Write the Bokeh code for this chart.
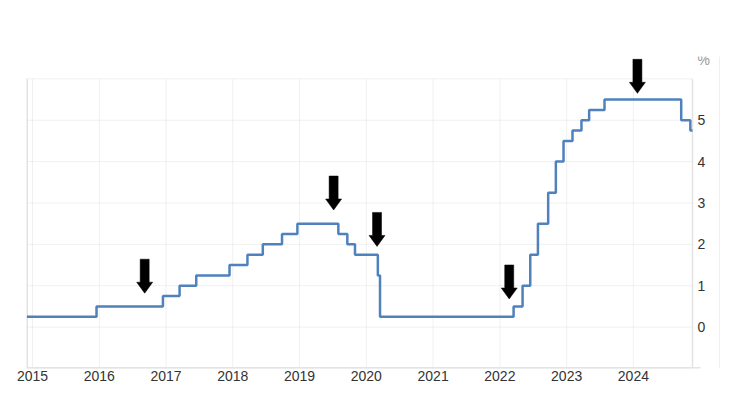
import pandas as pd
from bokeh.plotting import figure
from bokeh.models import FixedTicker, Range1d
from bokeh.core.properties import value
from bokeh.embed import file_html
from bokeh.resources import INLINE

# ---- data ----
step_dates = ["2014-12-01", "2015-12-17", "2016-12-15", "2017-03-16", "2017-06-15",
              "2017-12-14", "2018-03-22", "2018-06-14", "2018-09-27", "2018-12-20",
              "2019-08-01", "2019-09-19", "2019-10-31", "2020-03-04", "2020-03-16",
              "2022-03-17", "2022-05-05", "2022-06-16", "2022-07-28", "2022-09-22",
              "2022-11-03", "2022-12-15", "2023-02-02", "2023-03-23", "2023-05-04",
              "2023-07-27", "2024-09-19", "2024-11-08", "2024-11-20"]
rate = [0.25, 0.50, 0.75, 1.00, 1.25,
        1.50, 1.75, 2.00, 2.25, 2.50,
        2.25, 2.00, 1.75, 1.25, 0.25,
        0.50, 1.00, 1.75, 2.50, 3.25,
        4.00, 4.50, 4.75, 5.00, 5.25,
        5.50, 5.00, 4.75, 4.75]

year_ticks = [2015, 2016, 2017, 2018, 2019, 2020, 2021, 2022, 2023, 2024]
y_label_ticks = [0, 1, 2, 3, 4, 5]
y_grid_ticks = [-1, 0, 1, 2, 3, 4, 5, 6]
unit_text = "%"
unit_y = 6.46

# down-arrow markers: x position (year) and tip value (%)
arrow_x = [2016.68, 2019.51, 2020.16, 2022.14, 2024.06]
arrow_tip = [0.82, 2.83, 1.95, 0.68, 5.65]

# ---- helpers ----
def frac_year(s):
    d = pd.Timestamp(s)
    n = 366 if d.is_leap_year else 365
    return d.year + (d.dayofyear - 1) / n

xs = [frac_year(d) for d in step_dates]

W, H = 722, 399
BL, BR, BT, BB = 26, 2, 56, 31
FW, FH = W - BL - BR, H - BT - BB

X0, XR = 2014.91, 2024.885          # plotting area (left edge .. right edge)
PLOT_W = 666                         # pixels between X0 and XR
px_x = PLOT_W / (XR - X0)
X1 = X0 + FW / px_x                  # frame also holds the value labels
Y0, Y1 = -1.0, 6.54
px_y = FH / (Y1 - Y0)

p = figure(width=W, height=H, output_backend="svg", toolbar_location=None,
           x_range=Range1d(X0, X1), y_range=Range1d(Y0, Y1),
           y_axis_location=None,
           min_border_left=BL, min_border_right=BR,
           min_border_top=BT, min_border_bottom=BB)
p.outline_line_color = None
p.background_fill_color = "white"
p.border_fill_color = "white"

FONT = "Liberation Sans"
GRID = "#e0e0e0"
BORDER = "#e3e3e3"

# x axis (labels only)
p.xaxis.ticker = FixedTicker(ticks=year_ticks)
p.xaxis.major_label_overrides = {t: str(t) for t in year_ticks}
p.xaxis.axis_line_color = None
p.xaxis.major_tick_line_color = None
p.xaxis.minor_tick_line_color = None
p.xaxis.major_tick_out = 0
p.xaxis.major_tick_in = 0
p.xaxis.minor_tick_out = 0
p.xaxis.major_label_standoff = 2
p.xaxis.major_label_text_font = FONT
p.xaxis.major_label_text_font_size = "14px"
p.xaxis.major_label_text_color = "#333333"
p.xgrid.visible = False
p.ygrid.visible = False

# horizontal grid lines
p.segment(x0=[X0] * len(y_grid_ticks), y0=y_grid_ticks,
          x1=[XR] * len(y_grid_ticks), y1=y_grid_ticks,
          line_color=GRID, line_dash="1 1", line_width=1)
# vertical grid lines
p.segment(x0=year_ticks, y0=[y_grid_ticks[0]] * len(year_ticks),
          x1=year_ticks, y1=[y_grid_ticks[-1]] * len(year_ticks),
          line_color=GRID, line_dash="1 1", line_width=1)

# frame borders
p.segment(x0=[X0], y0=[y_grid_ticks[0]], x1=[X0], y1=[y_grid_ticks[-1]],
          line_color=BORDER, line_width=3)
p.segment(x0=[XR], y0=[y_grid_ticks[0]], x1=[XR], y1=[y_grid_ticks[-1]],
          line_color=BORDER, line_width=1.5)
p.segment(x0=[X0], y0=[Y0], x1=[XR + 8 / px_x], y1=[Y0],
          line_color=BORDER, line_width=3)
# faint outer separator on the far right
p.segment(x0=[XR + 27 / px_x], y0=[Y0], x1=[XR + 27 / px_x], y1=[Y1],
          line_color="#efefef", line_width=1)

# rate line
p.step(xs, rate, mode="after", line_color="#4f81bd", line_width=2.5)

# arrows (shape in pixels, converted to data units)
shape = [(0, 0), (8, 11), (4.5, 11), (4.5, 34), (-4.5, 34), (-4.5, 11), (-8, 11)]
pxs, pys = [], []
for ax, at in zip(arrow_x, arrow_tip):
    pxs.append([ax + dx / px_x for dx, dy in shape])
    pys.append([at + dy / px_y for dx, dy in shape])
p.patches(pxs, pys, fill_color="black", line_color="black", line_width=0.5)

# value labels on the right and the unit
p.text(x=[XR] * len(y_label_ticks), y=y_label_ticks,
       text=[str(v) for v in y_label_ticks], x_offset=5,
       text_baseline="middle", text_align="left",
       text_font=value(FONT), text_font_size="14px", text_color="#333333")
p.text(x=[XR], y=[unit_y], text=[unit_text], x_offset=5,
       text_baseline="middle", text_align="left",
       text_font=value(FONT), text_font_size="14px", text_color="#999999")

open("out.html", "w").write(file_html(p, INLINE))
